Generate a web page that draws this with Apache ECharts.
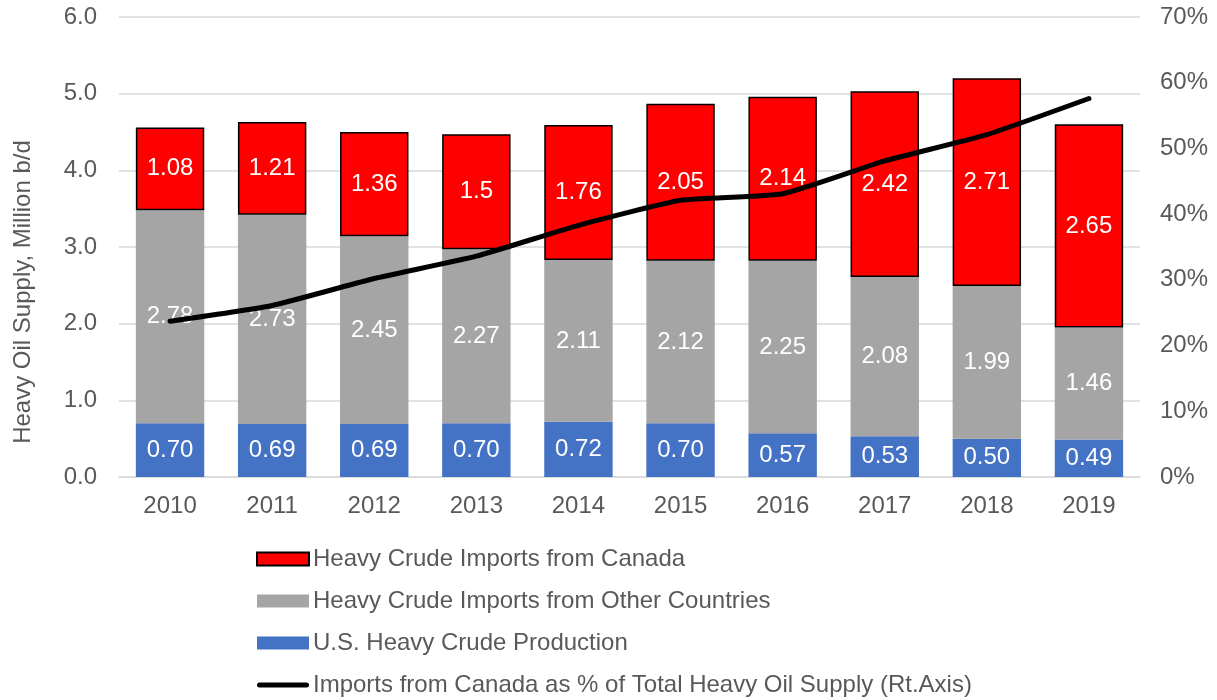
<!DOCTYPE html>
<html>
<head>
<meta charset="utf-8">
<script src="https://cdn.jsdelivr.net/npm/echarts@6/dist/echarts.min.js"></script>
<style>
  html, body { margin: 0; padding: 0; background: #fff; }
  #chart { width: 1217px; height: 700px; }
</style>
</head>
<body>
<div id="chart"></div>
<script>
var years = ['2010', '2011', '2012', '2013', '2014', '2015', '2016', '2017', '2018', '2019'];
var usProduction = [0.70, 0.69, 0.69, 0.70, 0.72, 0.70, 0.57, 0.53, 0.50, 0.49];
var otherImports = [2.78, 2.73, 2.45, 2.27, 2.11, 2.12, 2.25, 2.08, 1.99, 1.46];
var canadaImports = [1.08, 1.21, 1.36, 1.5, 1.76, 2.05, 2.14, 2.42, 2.71, 2.65];
var canadaShare = [23.7, 26.1, 30.2, 33.6, 38.3, 42.1, 43.1, 48.1, 52.1, 57.6];

var leftTicks = { min: 0, max: 6, interval: 1 };
var rightTicks = { min: 0, max: 70, interval: 10 };

var font = 'Liberation Sans, Arial, sans-serif';
var labelStyle = {
    show: true,
    position: 'inside',
    color: '#fff',
    fontSize: 24,
    fontFamily: font
};

// thick rounded bar used as the legend mark of the line
var lineIcon = 'path://M0,0 M52,13 M2.5,4 L49.5,4 A2.5,2.5 0 0 1 49.5,9 L2.5,9 A2.5,2.5 0 0 1 2.5,4 Z';

var myChart = echarts.init(document.getElementById('chart'));
myChart.setOption({
    animation: false,
    grid: { left: 119, right: 77, top: 17, bottom: 223 },
    legend: {
        orient: 'vertical',
        left: 256,
        top: 547,
        padding: 0,
        height: 160,
        itemWidth: 52,
        itemHeight: 13,
        itemGap: 18,
        textStyle: { fontSize: 24, color: '#595959', fontFamily: font, padding: [0, 0, 0, -1] },
        data: [
            { name: 'Heavy Crude Imports from Canada', icon: 'rect' },
            { name: 'Heavy Crude Imports from Other Countries', icon: 'rect' },
            { name: 'U.S. Heavy Crude Production', icon: 'rect' },
            { name: 'Imports from Canada as % of Total Heavy Oil Supply (Rt.Axis)', icon: lineIcon }
        ]
    },
    xAxis: {
        type: 'category',
        data: years,
        axisLine: { lineStyle: { color: '#d9d9d9', width: 1.5 } },
        axisTick: { show: false },
        axisLabel: { fontSize: 24, color: '#595959', fontFamily: font, margin: 17 }
    },
    yAxis: [
        {
            type: 'value',
            min: leftTicks.min,
            max: leftTicks.max,
            interval: leftTicks.interval,
            name: 'Heavy Oil Supply, Million b/d',
            nameLocation: 'middle',
            nameGap: 84,
            // title sits lower than the axis middle
            nameTextStyle: { fontSize: 24, color: '#595959', fontFamily: font, padding: [0, 90, 0, 0] },
            axisLabel: {
                fontSize: 24, color: '#595959', fontFamily: font, margin: 22,
                formatter: function (v) { return v.toFixed(1); }
            },
            splitLine: { lineStyle: { color: '#d9d9d9', width: 1.5 } },
            axisLine: { show: false },
            axisTick: { show: false }
        },
        {
            type: 'value',
            min: rightTicks.min,
            max: rightTicks.max,
            interval: rightTicks.interval,
            position: 'right',
            axisLabel: {
                fontSize: 24, color: '#595959', fontFamily: font, margin: 20,
                formatter: '{value}%'
            },
            splitLine: { show: false },
            axisLine: { show: false },
            axisTick: { show: false }
        }
    ],
    series: [
        {
            name: 'U.S. Heavy Crude Production',
            type: 'bar',
            stack: 'supply',
            barWidth: '67%',
            data: usProduction,
            itemStyle: { color: '#4472c4' },
            label: Object.assign({}, labelStyle, {
                formatter: function (p) { return p.value.toFixed(2); }
            })
        },
        {
            name: 'Heavy Crude Imports from Other Countries',
            type: 'bar',
            stack: 'supply',
            data: otherImports,
            itemStyle: { color: '#a5a5a5' },
            label: labelStyle
        },
        {
            name: 'Heavy Crude Imports from Canada',
            type: 'bar',
            stack: 'supply',
            data: canadaImports,
            itemStyle: { color: '#ff0000', borderColor: '#000', borderWidth: 1.5 },
            label: labelStyle
        },
        {
            name: 'Imports from Canada as % of Total Heavy Oil Supply (Rt.Axis)',
            type: 'line',
            yAxisIndex: 1,
            data: canadaShare,
            symbol: 'none',
            smooth: 0.15,
            lineStyle: { color: '#000', width: 5, cap: 'round', join: 'round' },
            itemStyle: { color: '#000' },
            z: 5
        }
    ]
});
</script>
</body>
</html>
